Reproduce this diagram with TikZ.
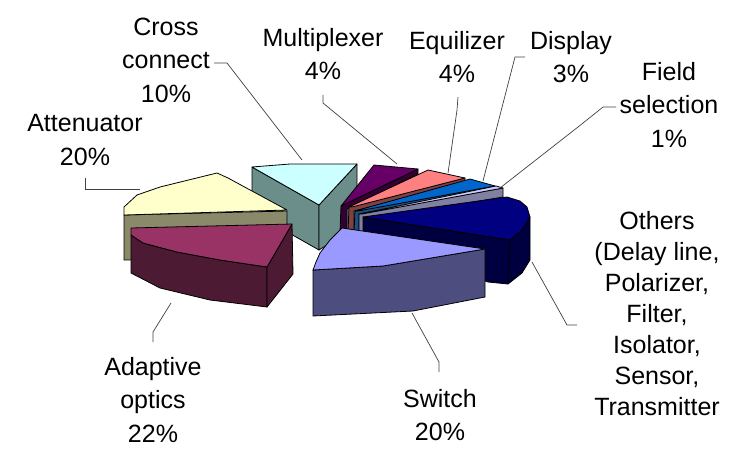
\documentclass[tikz,border=0pt]{standalone}
\usepackage{fontspec}
\setmainfont{Liberation Sans}
\begin{document}
\begin{tikzpicture}[x=1pt,y=-1pt,
  face/.style={draw=black,line width=0.8pt,line join=round},
  lbl/.style={align=center,inner sep=0pt,font=\fontsize{25}{33.5}\selectfont},
  lead/.style={draw=black!75,line width=0.7pt}]
\definecolor{attT}{HTML}{FFFFCC}\definecolor{attS}{HTML}{8A8A6A}
\definecolor{adaT}{HTML}{993366}\definecolor{adaS}{HTML}{4D1A33}
\definecolor{croT}{HTML}{CCFFFF}\definecolor{croS}{HTML}{6B8E8B}
\definecolor{mulT}{HTML}{660066}\definecolor{mulS}{HTML}{330033}
\definecolor{equT}{HTML}{FF8080}\definecolor{equS}{HTML}{804040}
\definecolor{disT}{HTML}{0066CC}\definecolor{disS}{HTML}{1F4F7F}
\definecolor{fieT}{HTML}{CCCCFF}\definecolor{fieS}{HTML}{8080A0}
\definecolor{othT}{HTML}{000080}\definecolor{othS}{HTML}{000040}
\definecolor{swiT}{HTML}{9999FF}\definecolor{swiS}{HTML}{4D4D80}
\useasboundingbox (0,0) rectangle (731,448);
% Cross connect
\filldraw[face,fill=croS] (252,167) -- (319,205) -- (319,250) -- (252,212) -- cycle;
\filldraw[face,fill=croS] (319,205) -- (357,164) -- (357,226) -- (319,250) -- cycle;
\filldraw[face,fill=croT] (252,167) -- (290,164) -- (357,164) -- (319,205) -- cycle;
% small slices
\filldraw[face,fill=mulS] (341,206) -- (418,169) -- (418,174) -- (347,209) -- (347,232) -- (340,232) -- cycle;
\filldraw[face,fill=mulT] (374,165) -- (418,169) -- (341,206) -- cycle;
\filldraw[face,fill=equS] (349,207) -- (465,178) -- (465,183) -- (354,211) -- (354,232) -- (348,232) -- cycle;
\filldraw[face,fill=equT] (428,170) -- (465,178) -- (352,207) -- (349,207) -- cycle;
\filldraw[face,fill=disS] (355,211) -- (495,186) -- (495,190) -- (359,214) -- (359,232) -- (354,232) -- cycle;
\filldraw[face,fill=disT] (470,179) -- (495,186) -- (358,211) -- (355,211) -- cycle;
\filldraw[face,fill=fieS] (359,214) -- (503,188) -- (503,197) -- (364,221) -- (364,232) -- (359,232) -- cycle;
\filldraw[face,fill=fieT] (496,186) -- (503,188) -- (362,214) -- (359,214) -- cycle;
% Others
\filldraw[face,fill=othS] (363,217) -- (510,240) -- (508,284) -- (488,282) -- (363,238) -- cycle;
\filldraw[face,fill=othS] (510,240) -- (522,230) -- (530,217) -- (530,260) -- (522,273) -- (508,284) -- cycle;
\filldraw[face,fill=othT] (363,217) -- (507,197) -- (520,201) -- (527,207) -- (530,217) -- (522,230) -- (510,240) -- cycle;
% Attenuator
\filldraw[face,fill=attS] (124,215) -- (287,211) -- (287,258) -- (124,260) -- cycle;
\filldraw[face,fill=attT] (124,207) -- (137,195) -- (160,187) -- (217,173) -- (228,178) -- (287,210) -- (124,215) -- cycle;
% Adaptive optics
\filldraw[face,fill=adaS] (131,235) -- (143,243) -- (177,252) -- (220,260) -- (267,267) -- (267,307) -- (210,300) -- (160,288) -- (131,273) -- cycle;
\filldraw[face,fill=adaS] (267,267) -- (292,224) -- (293,274) -- (267,307) -- cycle;
\filldraw[face,fill=adaT] (131,228) -- (292,224) -- (267,267) -- (220,260) -- (177,252) -- (143,243) -- (131,235) -- cycle;
% Switch
\filldraw[face,fill=swiS] (313,270) -- (383,266) -- (485,249) -- (485,297) -- (413,311) -- (313,316) -- cycle;
\filldraw[face,fill=swiT] (342,228) -- (485,249) -- (383,266) -- (313,270) -- (316,262) -- (320,253) -- (330,240) -- cycle;
% labels
\node[lbl] (lcro) at (166,60) {Cross\\connect\\10\%};
\node[lbl] (latt) at (85,140) {Attenuator\\20\%};
\node[lbl] (lmul) at (323,54) {Multiplexer\\4\%};
\node[lbl] (lequ) at (457,57) {Equilizer\\4\%};
\node[lbl] (ldis) at (571,57) {Display\\3\%};
\node[lbl] (lfie) at (669,105) {Field\\selection\\1\%};
\node[lbl,font=\fontsize{25}{31}\selectfont] (loth) at (657,314) {Others\\(Delay line,\\Polarizer,\\Filter,\\Isolator,\\Sensor,\\Transmitter};
\node[lbl] (lada) at (153,400) {Adaptive\\optics\\22\%};
\node[lbl] (lswi) at (440,415) {Switch\\20\%};
% leader coordinates
\coordinate (c1) at (214,63); \coordinate (c2) at (227,63); \coordinate (c3) at (302,160);
\coordinate (a1) at (85,178); \coordinate (a2) at (85,189); \coordinate (a3) at (140,189);
\coordinate (m1) at (323,95); \coordinate (m2) at (323,103); \coordinate (m3) at (397,164);
\coordinate (e1) at (458,97); \coordinate (e2) at (457,110); \coordinate (e3) at (448,173);
\coordinate (d1) at (525,57); \coordinate (d2) at (515,57); \coordinate (d3) at (483,181);
\coordinate (f1) at (616,107); \coordinate (f2) at (603,107); \coordinate (f3) at (578,127); \coordinate (f4) at (500,188);
\coordinate (o1) at (577,325); \coordinate (o2) at (567,325); \coordinate (o3) at (532,262);
\coordinate (p1) at (153,342); \coordinate (p2) at (153,332); \coordinate (p3) at (171,303);
\coordinate (s1) at (439,372); \coordinate (s2) at (439,362); \coordinate (s3) at (412,313);
\draw[lead] (c1) -- (c2) -- (c3);
\draw[lead] (a1) -- (a2) -- (a3);
\draw[lead] (m1) -- (m2) -- (m3);
\draw[lead] (e1) -- (e2) -- (e3);
\draw[lead] (d1) -- (d2) -- (d3);
\draw[lead] (f1) -- (f2) -- (f3) -- (f4);
\draw[lead] (o1) -- (o2) -- (o3);
\draw[lead] (p1) -- (p2) -- (p3);
\draw[lead] (s1) -- (s2) -- (s3);
\end{tikzpicture}
\end{document}
